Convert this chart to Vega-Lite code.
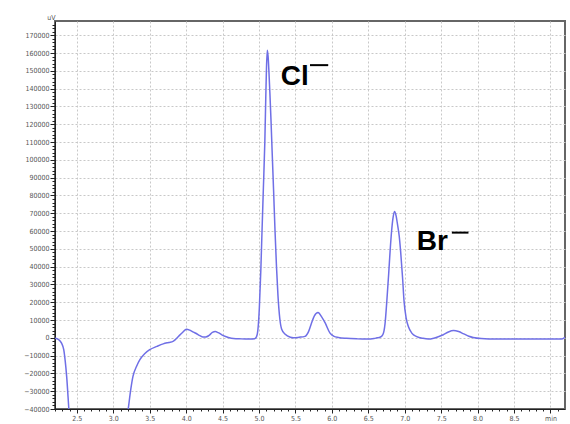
{
  "$schema": "https://vega.github.io/schema/vega-lite/v6.json",
  "autosize": "none",
  "width": 510,
  "height": 388,
  "padding": {"left": 55, "top": 21, "right": 5, "bottom": 15},
  "background": "white",
  "config": {
    "view": {"stroke": "#666666", "strokeWidth": 2},
    "axis": {
      "labelFont": "DejaVu Sans Condensed",
      "labelFontSize": 7,
      "labelColor": "#555555",
      "domainColor": "#222222",
      "tickColor": "#222222",
      "gridColor": "#c8c8c8",
      "gridDash": [2, 2],
      "gridWidth": 1,
      "title": null
    }
  },
  "datasets": {
    "trace": [
      {"t": 2.20, "v": -300}, {"t": 2.25, "v": -1000}, {"t": 2.29, "v": -3000}, {"t": 2.32, "v": -6700},
      {"t": 2.34, "v": -13000}, {"t": 2.36, "v": -21700}, {"t": 2.39, "v": -40000}, {"t": 2.42, "v": -58000},
      {"t": 2.80, "v": -90000}, {"t": 3.15, "v": -56000}, {"t": 3.205, "v": -40000}, {"t": 3.24, "v": -29000},
      {"t": 3.27, "v": -21700}, {"t": 3.32, "v": -16000}, {"t": 3.365, "v": -12300}, {"t": 3.43, "v": -9000},
      {"t": 3.50, "v": -6700}, {"t": 3.60, "v": -4800}, {"t": 3.685, "v": -3400}, {"t": 3.76, "v": -2600},
      {"t": 3.82, "v": -2000}, {"t": 3.86, "v": -700}, {"t": 3.90, "v": 1000}, {"t": 3.95, "v": 3000},
      {"t": 4.005, "v": 4800}, {"t": 4.05, "v": 4300}, {"t": 4.10, "v": 3200}, {"t": 4.14, "v": 2400},
      {"t": 4.19, "v": 1200}, {"t": 4.23, "v": 500}, {"t": 4.27, "v": 500}, {"t": 4.31, "v": 1200},
      {"t": 4.36, "v": 3000}, {"t": 4.40, "v": 3500}, {"t": 4.44, "v": 2900}, {"t": 4.51, "v": 1200},
      {"t": 4.58, "v": 200}, {"t": 4.65, "v": -400}, {"t": 4.75, "v": -600}, {"t": 4.88, "v": -700},
      {"t": 4.94, "v": -500}, {"t": 4.965, "v": 500}, {"t": 4.985, "v": 4500}, {"t": 5.005, "v": 17000},
      {"t": 5.025, "v": 38000}, {"t": 5.04, "v": 58000}, {"t": 5.06, "v": 84000}, {"t": 5.08, "v": 110000},
      {"t": 5.093, "v": 135000}, {"t": 5.103, "v": 152000}, {"t": 5.114, "v": 161500}, {"t": 5.125, "v": 158000},
      {"t": 5.137, "v": 149000}, {"t": 5.15, "v": 137000}, {"t": 5.165, "v": 122000}, {"t": 5.18, "v": 105000},
      {"t": 5.20, "v": 83000}, {"t": 5.22, "v": 60000}, {"t": 5.24, "v": 40000}, {"t": 5.26, "v": 24000},
      {"t": 5.285, "v": 11000}, {"t": 5.31, "v": 5000}, {"t": 5.36, "v": 2000}, {"t": 5.43, "v": 300},
      {"t": 5.47, "v": 0}, {"t": 5.55, "v": 300}, {"t": 5.63, "v": 800}, {"t": 5.68, "v": 3500},
      {"t": 5.72, "v": 8200}, {"t": 5.76, "v": 12300}, {"t": 5.81, "v": 14200}, {"t": 5.86, "v": 11800},
      {"t": 5.91, "v": 8200}, {"t": 5.975, "v": 2600}, {"t": 6.03, "v": 800}, {"t": 6.09, "v": 200},
      {"t": 6.20, "v": -300}, {"t": 6.35, "v": -600}, {"t": 6.48, "v": -700}, {"t": 6.58, "v": -400},
      {"t": 6.62, "v": 0}, {"t": 6.66, "v": 300}, {"t": 6.70, "v": 1800}, {"t": 6.73, "v": 8000},
      {"t": 6.755, "v": 21000}, {"t": 6.78, "v": 36000}, {"t": 6.80, "v": 49000}, {"t": 6.82, "v": 60000},
      {"t": 6.838, "v": 67000}, {"t": 6.86, "v": 71000}, {"t": 6.882, "v": 68500}, {"t": 6.90, "v": 64000},
      {"t": 6.925, "v": 57000}, {"t": 6.945, "v": 48000}, {"t": 6.97, "v": 34000}, {"t": 6.99, "v": 21000},
      {"t": 7.02, "v": 11000}, {"t": 7.05, "v": 6300}, {"t": 7.10, "v": 2500}, {"t": 7.165, "v": 700},
      {"t": 7.25, "v": -300}, {"t": 7.325, "v": -700}, {"t": 7.40, "v": -200}, {"t": 7.47, "v": 700},
      {"t": 7.53, "v": 1700}, {"t": 7.60, "v": 3300}, {"t": 7.67, "v": 4100}, {"t": 7.74, "v": 3500},
      {"t": 7.81, "v": 2200}, {"t": 7.88, "v": 900}, {"t": 7.94, "v": 200}, {"t": 8.05, "v": -400},
      {"t": 8.26, "v": -700}, {"t": 8.60, "v": -700}, {"t": 9.00, "v": -700}, {"t": 9.15, "v": -700},
      {"t": 9.20, "v": 300}
    ],
    "ions": [
      {"label": "Cl", "t": 5.298, "v": 141900},
      {"label": "Br", "t": 7.166, "v": 49400}
    ],
    "dashes": [
      {"ion": "Cl", "t": 5.70, "t2": 5.95, "v": 153200},
      {"ion": "Br", "t": 7.647, "t2": 7.875, "v": 59100}
    ]
  },
  "resolve": {"axis": {"x": "independent", "y": "independent"}},
  "layer": [
    {
      "data": {"name": "dashes"},
      "mark": {"type": "rule", "color": "black", "strokeWidth": 2},
      "encoding": {
        "x": {
          "field": "t", "type": "quantitative",
          "scale": {"domain": [2.2, 9.2], "nice": false, "zero": false},
          "axis": {
            "orient": "bottom", "labels": false, "grid": false, "domain": false, "tickSize": 2, "tickColor": "#222222",
            "values": [2.2, 2.3, 2.4, 2.6, 2.7, 2.8, 2.9, 3.1, 3.2, 3.3, 3.4, 3.6, 3.7, 3.8, 3.9, 4.1, 4.2, 4.3, 4.4, 4.6, 4.7, 4.8, 4.9, 5.1, 5.2, 5.3, 5.4, 5.6, 5.7, 5.8, 5.9, 6.1, 6.2, 6.3, 6.4, 6.6, 6.7, 6.8, 6.9, 7.1, 7.2, 7.3, 7.4, 7.6, 7.7, 7.8, 7.9, 8.1, 8.2, 8.3, 8.4, 8.6, 8.7, 8.8, 8.9, 9.1]
          }
        },
        "x2": {"field": "t2"},
        "y": {
          "field": "v", "type": "quantitative",
          "scale": {"domain": [-40000, 178000], "nice": false, "zero": false},
          "axis": {
            "orient": "left", "labels": false, "grid": false, "domain": false, "tickSize": 3, "tickColor": "#222222",
            "values": [-38000, -36000, -34000, -32000, -28000, -26000, -24000, -22000, -18000, -16000, -14000, -12000, -8000, -6000, -4000, -2000, 2000, 4000, 6000, 8000, 12000, 14000, 16000, 18000, 22000, 24000, 26000, 28000, 32000, 34000, 36000, 38000, 42000, 44000, 46000, 48000, 52000, 54000, 56000, 58000, 62000, 64000, 66000, 68000, 72000, 74000, 76000, 78000, 82000, 84000, 86000, 88000, 92000, 94000, 96000, 98000, 102000, 104000, 106000, 108000, 112000, 114000, 116000, 118000, 122000, 124000, 126000, 128000, 132000, 134000, 136000, 138000, 142000, 144000, 146000, 148000, 152000, 154000, 156000, 158000, 162000, 164000, 166000, 168000, 172000, 174000, 176000]
          }
        }
      }
    },
    {
      "data": {"name": "trace"},
      "mark": {"type": "line", "color": "#6f6fe6", "strokeWidth": 1.5, "clip": true, "interpolate": "monotone"},
      "encoding": {
        "x": {
          "field": "t", "type": "quantitative",
          "axis": {
            "orient": "bottom",
            "values": [2.5, 3.0, 3.5, 4.0, 4.5, 5.0, 5.5, 6.0, 6.5, 7.0, 7.5, 8.0, 8.5, 9.0],
            "format": ".1f",
            "labelExpr": "datum.value >= 9 ? 'min' : datum.label",
            "tickSize": 4,
            "labelPadding": 1,
            "grid": true,
            "labelFlush": false,
            "labelOverlap": false
          }
        },
        "y": {
          "field": "v", "type": "quantitative",
          "axis": {
            "orient": "left",
            "values": [-40000, -30000, -20000, -10000, 0, 10000, 20000, 30000, 40000, 50000, 60000, 70000, 80000, 90000, 100000, 110000, 120000, 130000, 140000, 150000, 160000, 170000],
            "format": "d",
            "tickSize": 5,
            "labelPadding": 1,
            "grid": true,
            "labelFlush": false,
            "labelOverlap": false,
            "title": "uV",
            "titleAngle": 0,
            "titleX": 0,
            "titleY": -1,
            "titleAlign": "right",
            "titleBaseline": "bottom",
            "titleFont": "DejaVu Sans Condensed",
            "titleFontSize": 7,
            "titleFontWeight": "normal",
            "titleColor": "#555555"
          }
        }
      }
    },
    {
      "data": {"name": "ions"},
      "mark": {"type": "text", "font": "Liberation Sans", "fontWeight": "bold", "fontSize": 28, "align": "left", "baseline": "alphabetic", "color": "black"},
      "encoding": {
        "x": {"field": "t", "type": "quantitative", "axis": null},
        "y": {"field": "v", "type": "quantitative", "axis": null},
        "text": {"field": "label"}
      }
    }
  ]
}
